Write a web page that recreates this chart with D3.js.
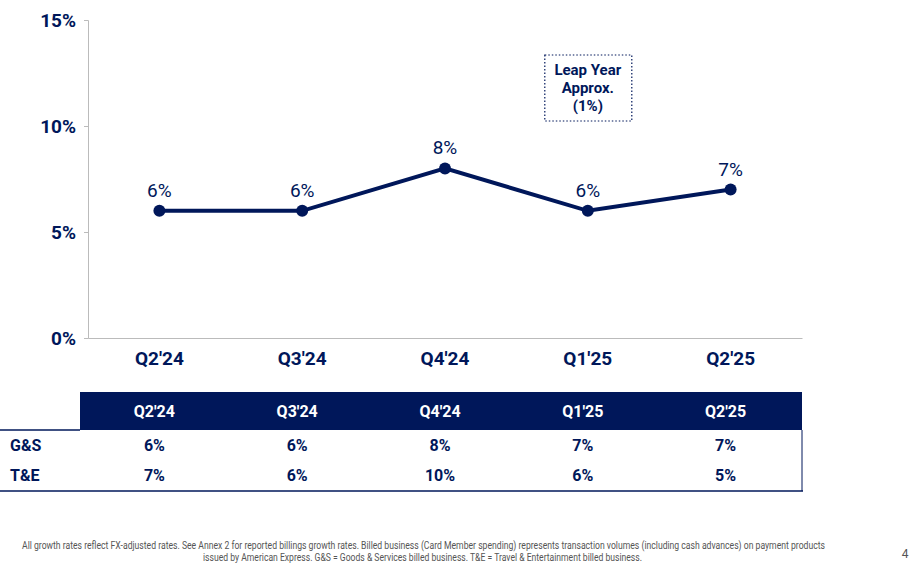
<!DOCTYPE html>
<html>
<head>
<meta charset="utf-8">
<script src="https://cdn.jsdelivr.net/npm/d3@7"></script>
<style>
  body { margin: 0; background: #fff; }
  text { font-family: "Liberation Sans Narrow", "Roboto", sans-serif; }
</style>
</head>
<body>
<div id="chart"></div>
<script>
// data
var quarters = ["Q2'24", "Q3'24", "Q4'24", "Q1'25", "Q2'25"];
var totalGrowth = [6, 6, 8, 6, 7];
var gsGrowth = [6, 6, 8, 7, 7];
var teGrowth = [7, 6, 10, 6, 5];
var yTicks = [0, 5, 10, 15];

var navy = "#00175a";
var svg = d3.select("#chart").append("svg")
  .attr("width", 923).attr("height", 570);

var x = d3.scaleBand().domain(quarters).range([88, 802]);
var y = d3.scaleLinear().domain([0, 15]).range([338, 20]);

// y axis
var yAxis = svg.append("g")
  .attr("transform", "translate(88,0)")
  .call(d3.axisLeft(y).tickValues(yTicks).tickSize(4).tickFormat(d => d + "%"));
yAxis.select(".domain").attr("stroke", "#bbb");
yAxis.selectAll(".tick line").attr("stroke", "#bbb");
yAxis.selectAll("text").attr("fill", navy).attr("font-size", 19)
  .attr("font-weight", "bold").attr("x", -12);

// x axis
var xAxis = svg.append("g")
  .attr("transform", "translate(0,338)")
  .call(d3.axisBottom(x).tickSize(0).tickPadding(10));
xAxis.select(".domain").attr("stroke", "#bbb");
xAxis.selectAll("text").attr("fill", navy).attr("font-size", 19)
  .attr("font-weight", "bold").attr("dy", "0.9em");

var cx = d => x(d) + x.bandwidth() / 2;

// line
svg.append("path")
  .datum(totalGrowth)
  .attr("fill", "none").attr("stroke", navy).attr("stroke-width", 4)
  .attr("d", d3.line().x((d, i) => cx(quarters[i])).y(d => y(d)));

svg.selectAll("circle.pt").data(totalGrowth).enter().append("circle")
  .attr("cx", (d, i) => cx(quarters[i])).attr("cy", d => y(d))
  .attr("r", 6).attr("fill", navy);

svg.selectAll("text.lbl").data(totalGrowth).enter().append("text")
  .attr("x", (d, i) => cx(quarters[i])).attr("y", d => y(d) - 14)
  .attr("text-anchor", "middle").attr("fill", navy).attr("font-size", 19)
  .text(d => d + "%");

// leap year note
var nx = cx(quarters[3]);
svg.append("rect").attr("x", nx - 43).attr("y", 55).attr("width", 87).attr("height", 66)
  .attr("fill", "none").attr("stroke", navy).attr("stroke-width", 1.2)
  .attr("stroke-dasharray", "1.5,2");
["Leap Year", "Approx.", "(1%)"].forEach(function(t, i) {
  svg.append("text").attr("x", nx).attr("y", 75 + i * 18)
    .attr("text-anchor", "middle").attr("fill", navy).attr("font-size", 15)
    .attr("font-weight", "bold").text(t);
});

// table
svg.append("rect").attr("x", 80).attr("y", 392).attr("width", 722).attr("height", 38)
  .attr("fill", navy);
svg.selectAll("text.hdr").data(quarters).enter().append("text")
  .attr("x", d => cx(d) - 5).attr("y", 417).attr("text-anchor", "middle")
  .attr("fill", "#fff").attr("font-size", 16).attr("font-weight", "bold").text(d => d);
svg.append("line").attr("x1", 0).attr("x2", 80).attr("y1", 430).attr("y2", 430)
  .attr("stroke", navy).attr("stroke-width", 1.5);
svg.append("line").attr("x1", 0).attr("x2", 803).attr("y1", 491).attr("y2", 491)
  .attr("stroke", navy).attr("stroke-width", 1.5);
svg.append("line").attr("x1", 802).attr("x2", 802).attr("y1", 430).attr("y2", 491)
  .attr("stroke", navy).attr("stroke-width", 1);

[["G&S", gsGrowth, 451], ["T&E", teGrowth, 481]].forEach(function(row) {
  svg.append("text").attr("x", 10).attr("y", row[2]).attr("fill", navy)
    .attr("font-size", 16).attr("font-weight", "bold").text(row[0]);
  svg.selectAll(null).data(row[1]).enter().append("text")
    .attr("x", (d, i) => cx(quarters[i]) - 5).attr("y", row[2]).attr("text-anchor", "middle")
    .attr("fill", navy).attr("font-size", 16).attr("font-weight", "bold").text(d => d + "%");
});

// footnote
var notes = [
  ["All growth rates reflect FX-adjusted rates. See Annex 2 for reported billings growth rates. Billed business (Card Member spending) represents transaction volumes (including cash advances) on payment products", 22, 803],
  ["issued by American Express. G&S = Goods & Services billed business. T&E = Travel & Entertainment billed business.", 203, 439]];
notes.forEach(function(n, i) {
  svg.append("text").attr("x", n[1]).attr("y", 549 + i * 12)
    .attr("textLength", n[2]).attr("lengthAdjust", "spacingAndGlyphs")
    .attr("fill", "#555").attr("font-size", 10).text(n[0]);
});
svg.append("text").attr("x", 905).attr("y", 558).attr("text-anchor", "middle")
  .attr("fill", "#555").attr("font-size", 12).text("4");
</script>
</body>
</html>
